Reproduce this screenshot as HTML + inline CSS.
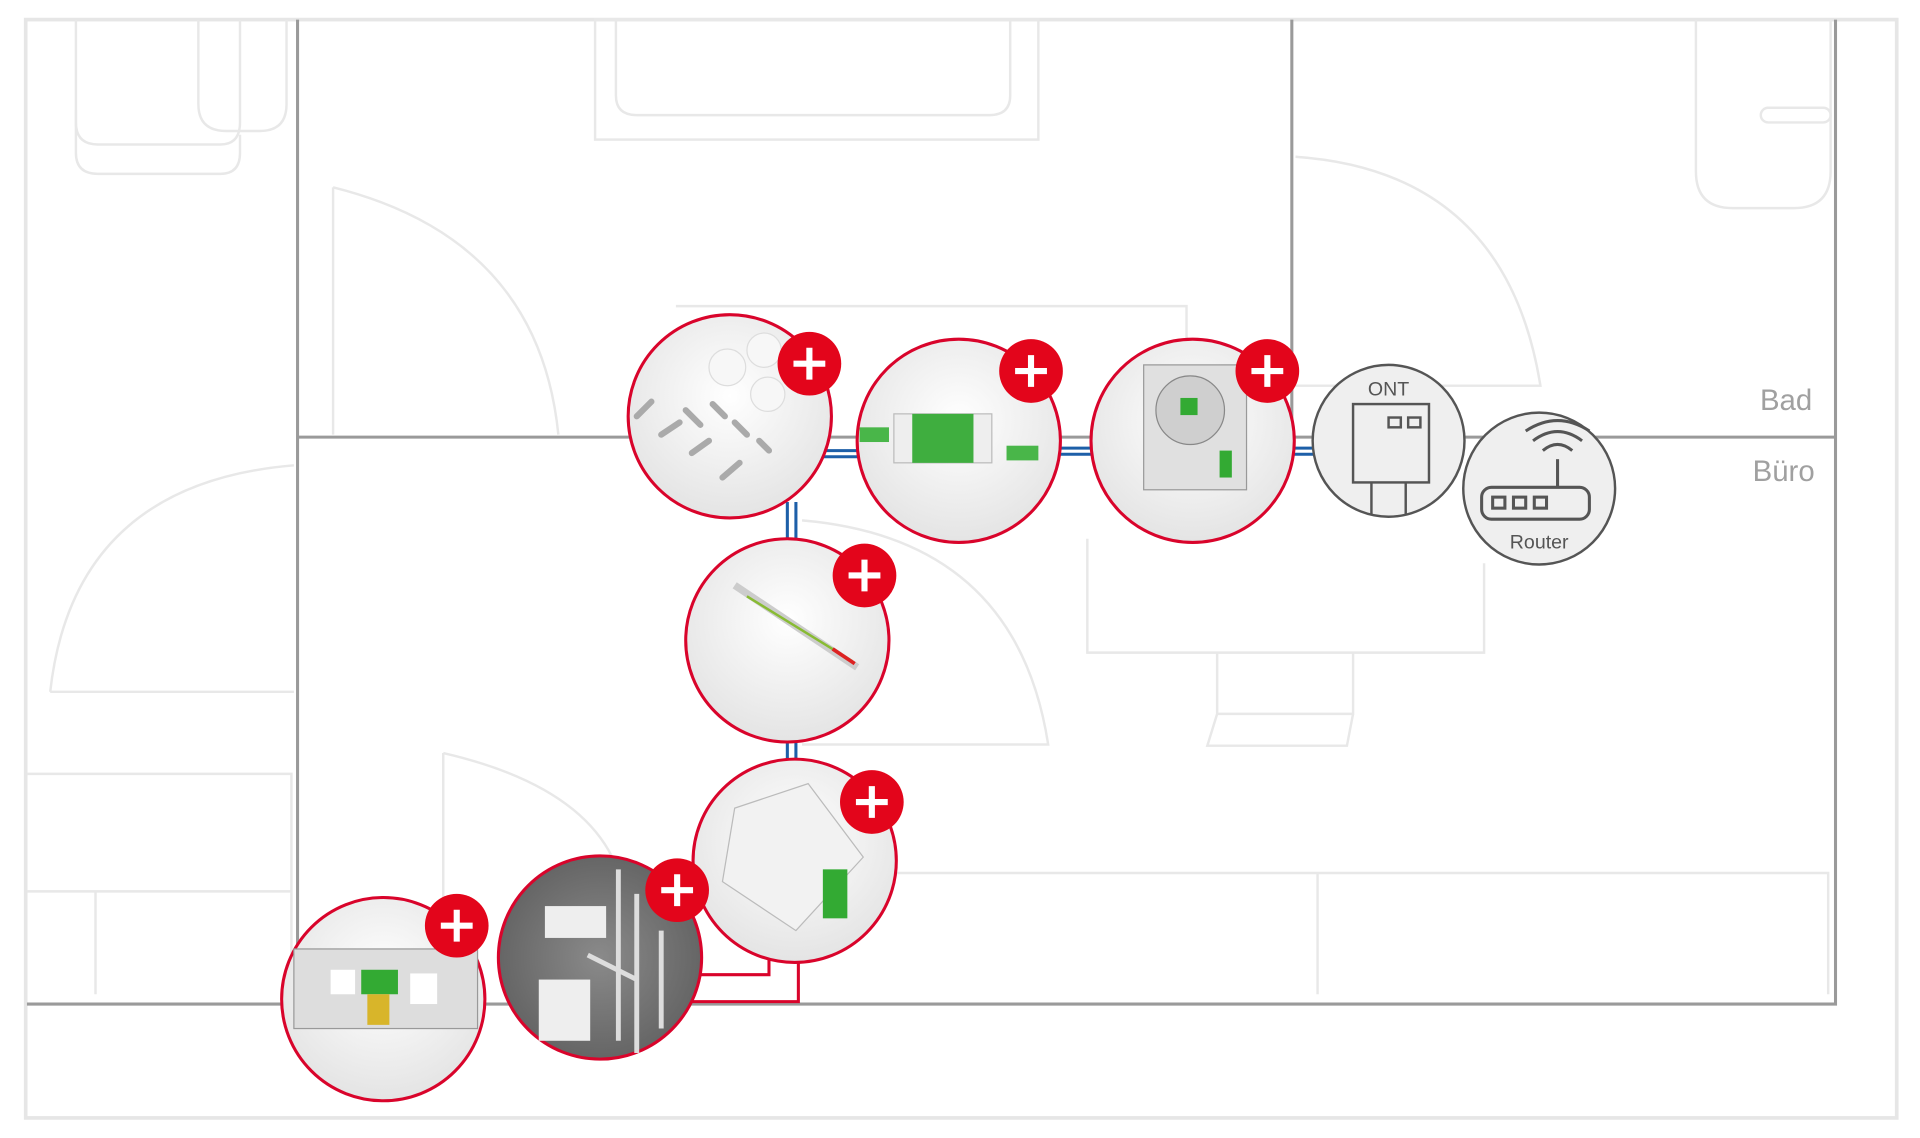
<!DOCTYPE html>
<html><head><meta charset="utf-8"><style>
html,body{margin:0;padding:0;background:#fff;}
svg{display:block;}
</style></head><body>
<svg width="1920" height="1138" viewBox="0 0 1568 929.4" preserveAspectRatio="none" xmlns="http://www.w3.org/2000/svg" font-family="Liberation Sans, sans-serif">
<defs>
<radialGradient id="g" cx="50%" cy="40%" r="60%"><stop offset="0" stop-color="#ffffff"/><stop offset="1" stop-color="#e4e4e4"/></radialGradient>
<radialGradient id="gd" cx="50%" cy="50%" r="60%"><stop offset="0" stop-color="#8a8a8a"/><stop offset="1" stop-color="#5e5e5e"/></radialGradient>
</defs>
<!-- outer border -->
<rect x="21" y="16" width="1528" height="897" fill="none" stroke="#e6e6e6" stroke-width="3"/>
<!-- light furniture -->
<g fill="none" stroke="#e8e8e8" stroke-width="2">
<path d="M62 16 V100 Q62 118 80 118 H180 Q196 118 196 100 V16"/>
<path d="M62 90 V125 Q62 142 80 142 H180 Q196 142 196 125 V110"/>
<path d="M162 16 V85 Q162 107 185 107 H212 Q234 107 234 85 V16"/>
<rect x="486" y="16" width="362" height="98"/>
<path d="M503 16 V78 Q503 94 520 94 H808 Q825 94 825 78 V16"/>
<path d="M272 153 V355 M272 153 Q440 195 456 355"/>
<path d="M1058 128 Q1230 140 1258 315 H1058"/>
<path d="M1385 16 V140 Q1385 170 1415 170 H1465 Q1495 170 1495 140 V16"/>
<rect x="1438" y="88" width="57" height="12" rx="6"/>
<path d="M41 565 Q60 395 240 380 M41 565 H240"/>
<path d="M22 632 H238 V812 M22 728 H238 M78 728 V812"/>
<path d="M552 250 H969 V290"/>
<path d="M655 425 Q830 440 856 608 H655"/>
<path d="M888 440 V533 H1212 V460"/>
<path d="M994 533 V583 H1105 V533 M994 583 L986 609 H1100 L1105 583"/>
<path d="M362 615 Q470 640 500 700 M362 615 V735"/>
<path d="M655 713 H1493 V812 M1076 713 V812"/>
</g>
<!-- walls -->
<g fill="none" stroke="#9a9a9a" stroke-width="2.5">
<path d="M243 16 V820"/>
<path d="M22 820 H1499 V16"/>
<path d="M1055 16 V357"/>
<path d="M243 357 H1499"/>
</g>
<text x="1480" y="335" font-size="24" fill="#a0a0a0" text-anchor="end">Bad</text>
<text x="1482" y="393" font-size="24" fill="#a0a0a0" text-anchor="end">Büro</text>
<!-- cables -->
<g fill="none" stroke-width="2.5">
<path d="M660 368 H720 M860 366 H910 M1050 366 H1080" stroke="#1d5fa8"/>
<path d="M660 373 H720 M860 371 H910 M1050 371 H1080" stroke="#1d5fa8"/>
<path d="M643 410 V460 M643 600 V640" stroke="#1d5fa8"/>
<path d="M650 410 V460 M650 600 V640" stroke="#1d5fa8"/>
<path d="M628 770 V796 H560" stroke="#d9042b"/>
<path d="M652 780 V818 H560" stroke="#d9042b"/>
</g>
<!-- product circles -->
<g stroke="#d9042b" stroke-width="2.5" fill="url(#g)">
<circle cx="596" cy="340" r="83"/>
<circle cx="783" cy="360" r="83"/>
<circle cx="974" cy="360" r="83"/>
<circle cx="643" cy="523" r="83"/>
<circle cx="649" cy="703" r="83"/>
<circle cx="490" cy="782" r="83" fill="url(#gd)"/>
<circle cx="313" cy="816" r="83"/>
</g>
<!-- product imagery (simplified) -->
<g>
<circle cx="594" cy="300" r="15" fill="#f7f7f7" stroke="#ddd"/><circle cx="624" cy="286" r="14" fill="#f7f7f7" stroke="#ddd"/><circle cx="627" cy="322" r="14" fill="#f7f7f7" stroke="#ddd"/>
<g stroke="#aaa" stroke-width="5" fill="none" stroke-linecap="round"><path d="M520 340 l12-12 M540 355 l15-10 M560 335 l12 12 M565 370 l14-10 M582 330 l10 10 M600 345 l10 10 M590 390 l14-12 M620 360 l8 8"/></g>
<rect x="730" y="338" width="80" height="40" fill="#eee" stroke="#bbb"/>
<rect x="745" y="338" width="50" height="40" fill="#3fae3f"/>
<rect x="702" y="349" width="24" height="12" fill="#49b649"/><rect x="822" y="364" width="26" height="12" fill="#49b649"/>
<rect x="934" y="298" width="84" height="102" fill="#e0e0e0" stroke="#999"/>
<circle cx="972" cy="335" r="28" fill="#cfcfcf" stroke="#888"/><rect x="964" y="325" width="14" height="14" fill="#3a3"/>
<rect x="996" y="368" width="10" height="22" fill="#3a3"/>
<path d="M600 478 L700 545" stroke="#ccc" stroke-width="6"/><path d="M610 487 L696 540" stroke="#8b3" stroke-width="2"/><path d="M680 530 L698 542" stroke="#d22" stroke-width="3"/>
<path d="M600 660 L660 640 L705 700 L650 760 L590 720 Z" fill="#f2f2f2" stroke="#bbb"/>
<rect x="672" y="710" width="20" height="40" fill="#3a3"/>
<rect x="445" y="740" width="50" height="26" fill="#eee"/><rect x="440" y="800" width="42" height="50" fill="#eee"/>
<g stroke="#ddd" stroke-width="4"><path d="M505 710 V850 M520 730 V860 M540 760 V840 M480 780 l40 20"/></g>
<rect x="240" y="775" width="150" height="65" fill="#ddd" stroke="#999"/>
<rect x="295" y="792" width="30" height="20" fill="#3a3"/><rect x="300" y="812" width="18" height="25" fill="#d8b52a"/>
<rect x="270" y="792" width="20" height="20" fill="#fff"/><rect x="335" y="795" width="22" height="25" fill="#fff"/>
</g>
<!-- plus buttons -->
<g fill="#e3051b">
<circle cx="661" cy="297" r="26"/><circle cx="842" cy="303" r="26"/><circle cx="1035" cy="303" r="26"/>
<circle cx="706" cy="470" r="26"/><circle cx="712" cy="655" r="26"/><circle cx="553" cy="727" r="26"/><circle cx="373" cy="756" r="26"/>
</g>
<g stroke="#fff" stroke-width="5">
<path d="M648 297 H674 M661 284 V310"/><path d="M829 303 H855 M842 290 V316"/><path d="M1022 303 H1048 M1035 290 V316"/>
<path d="M693 470 H719 M706 457 V483"/><path d="M699 655 H725 M712 642 V668"/><path d="M540 727 H566 M553 714 V740"/><path d="M360 756 H386 M373 743 V769"/>
</g>
<!-- ONT & Router -->
<circle cx="1134" cy="360" r="62" fill="#efefef" stroke="#555" stroke-width="2"/>
<text x="1134" y="323" font-size="16" fill="#555" text-anchor="middle">ONT</text>
<g fill="none" stroke="#555" stroke-width="2">
<rect x="1105" y="330" width="62" height="64"/><rect x="1134" y="341" width="10" height="8"/><rect x="1150" y="341" width="10" height="8"/>
<path d="M1120 394 V420 M1148 394 V420"/>
</g>
<path d="M1196 390 H1210" stroke="#555" stroke-width="2"/>
<circle cx="1257" cy="399" r="62" fill="#efefef" stroke="#555" stroke-width="2"/>
<g fill="none" stroke="#555" stroke-width="2.5">
<rect x="1210" y="398" width="88" height="26" rx="8"/>
<rect x="1219" y="406" width="10" height="9"/><rect x="1236" y="406" width="10" height="9"/><rect x="1253" y="406" width="10" height="9"/>
<path d="M1272 398 V375"/>
<path d="M1260 368 Q1272 358 1284 368 M1252 360 Q1272 345 1292 360 M1246 352 Q1272 335 1298 352"/>
</g>
<text x="1257" y="448" font-size="16" fill="#555" text-anchor="middle">Router</text>
</svg>
</body></html>
